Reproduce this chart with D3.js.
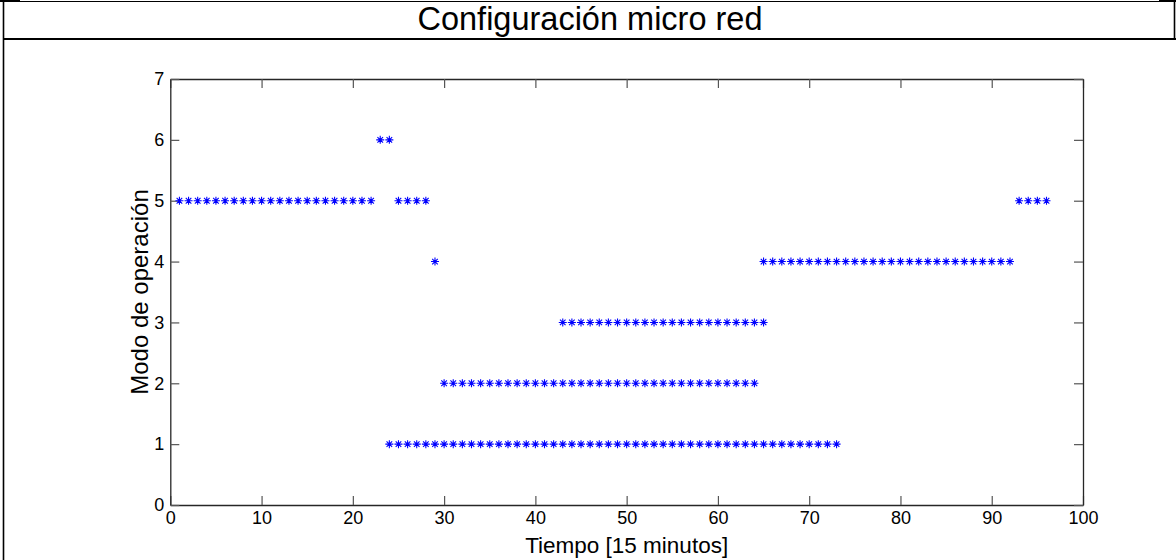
<!DOCTYPE html>
<html>
<head>
<meta charset="utf-8">
<script src="https://cdn.jsdelivr.net/npm/d3@7"></script>
<style>
  html, body { margin: 0; padding: 0; background: #fff; }
  svg { display: block; font-family: Arial, "Liberation Sans", sans-serif; }
</style>
</head>
<body>
<svg id="chart" width="1176" height="560"></svg>
<script>
// Operating mode of the micro grid at each 15-minute time step
const modo1 = [24,25,26,27,28,29,30,31,32,33,34,35,36,37,38,39,40,41,42,43,44,45,46,47,48,49,50,51,52,53,54,55,56,57,58,59,60,61,62,63,64,65,66,67,68,69,70,71,72,73];
const modo2 = [30,31,32,33,34,35,36,37,38,39,40,41,42,43,44,45,46,47,48,49,50,51,52,53,54,55,56,57,58,59,60,61,62,63,64];
const modo3 = [43,44,45,46,47,48,49,50,51,52,53,54,55,56,57,58,59,60,61,62,63,64,65];
const modo4 = [29,65,66,67,68,69,70,71,72,73,74,75,76,77,78,79,80,81,82,83,84,85,86,87,88,89,90,91,92];
const modo5 = [1,2,3,4,5,6,7,8,9,10,11,12,13,14,15,16,17,18,19,20,21,22,25,26,27,28,93,94,95,96];
const modo6 = [23,24];

const modos = [1, 2, 3, 4, 5, 6];
const series = [modo1, modo2, modo3, modo4, modo5, modo6];

const xTicks = [0,10,20,30,40,50,60,70,80,90,100];
const yTicks = [0,1,2,3,4,5,6,7];

const titulo = "Configuración micro red";
const xLabel = "Tiempo [15 minutos]";
const yLabel = "Modo de operación";

const svg = d3.select("#chart");
const W = 1176, H = 560;

// ---- title cell borders ----
svg.append("rect").attr("x", 0).attr("y", 0).attr("width", 20).attr("height", 2).attr("fill", "#000");
svg.append("rect").attr("x", 1159).attr("y", 0).attr("width", 17).attr("height", 2).attr("fill", "#000");
svg.append("line").attr("x1", 3).attr("x2", 1175).attr("y1", 1.5).attr("y2", 1.5)
  .attr("stroke", "#000").attr("stroke-width", 1);
svg.append("line").attr("x1", 3).attr("x2", 1176).attr("y1", 39).attr("y2", 39)
  .attr("stroke", "#000").attr("stroke-width", 2);
svg.append("line").attr("x1", 3.5).attr("x2", 3.5).attr("y1", 0).attr("y2", H)
  .attr("stroke", "#000").attr("stroke-width", 1.6);
svg.append("line").attr("x1", 1174.5).attr("x2", 1174.5).attr("y1", 0).attr("y2", 40)
  .attr("stroke", "#000").attr("stroke-width", 1.6);

svg.append("text")
  .attr("x", 590).attr("y", 30)
  .attr("text-anchor", "middle")
  .attr("font-size", 32.5)
  .attr("fill", "#000")
  .text(titulo);

// ---- plot area ----
const x0 = 170.3, x1 = 1083, yTop = 79, yBot = 505;
const x = d3.scaleLinear().domain([0, 100]).range([x0, x1]);
const y = d3.scaleLinear().domain([0, 7]).range([yBot, yTop]);

const tickLen = 9;
const axisColor = "#262626";
const fmt = d3.format("d");

const axBottom = svg.append("g").attr("transform", `translate(0,${yBot})`)
  .call(d3.axisBottom(x).tickValues(xTicks).tickFormat(fmt).tickSizeInner(-tickLen).tickSizeOuter(0).tickPadding(6));
const axTop = svg.append("g").attr("transform", `translate(0,${yTop})`)
  .call(d3.axisTop(x).tickValues(xTicks).tickSizeInner(-tickLen).tickSizeOuter(0).tickFormat(""));
const axLeft = svg.append("g").attr("transform", `translate(${x0},0)`)
  .call(d3.axisLeft(y).tickValues(yTicks).tickFormat(fmt).tickSizeInner(-tickLen).tickSizeOuter(0).tickPadding(6));
const axRight = svg.append("g").attr("transform", `translate(${x1},0)`)
  .call(d3.axisRight(y).tickValues(yTicks).tickSizeInner(-tickLen).tickSizeOuter(0).tickFormat(""));

[axBottom, axTop, axLeft, axRight].forEach(g => {
  g.select(".domain").attr("stroke", axisColor).attr("stroke-width", 1.3);
  g.selectAll(".tick line").attr("stroke", "#555").attr("stroke-width", 1.2);
  g.selectAll(".tick text").attr("font-size", 18).attr("fill", "#000")
    .attr("font-family", "Arial, 'Liberation Sans', sans-serif");
});

// ---- axis titles ----
svg.append("text")
  .attr("x", (x0 + x1) / 2).attr("y", 553)
  .attr("text-anchor", "middle").attr("font-size", 22.5).attr("fill", "#000")
  .text(xLabel);
svg.append("text")
  .attr("transform", `translate(148,${(yTop + yBot) / 2}) rotate(-90)`)
  .attr("text-anchor", "middle").attr("font-size", 24).attr("fill", "#000")
  .text(yLabel);

// ---- asterisk markers ----
const starPath = (() => {
  const a = 4, d = 2.8;
  return `M${-a},0L${a},0M0,${-a}L0,${a}M${-d},${-d}L${d},${d}M${-d},${d}L${d},${-d}`;
})();

const pts = [];
series.forEach((ts, i) => ts.forEach(t => pts.push({ t, m: modos[i] })));

svg.append("g").selectAll("path")
  .data(pts)
  .join("path")
  .attr("transform", d => `translate(${x(d.t)},${y(d.m)})`)
  .attr("d", starPath)
  .attr("stroke", "#0000ff")
  .attr("stroke-width", 1.1)
  .attr("fill", "none");
</script>
</body>
</html>
